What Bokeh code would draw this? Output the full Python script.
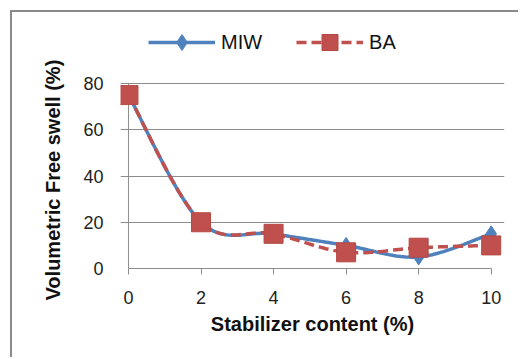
import numpy as np
from bokeh.plotting import figure
from bokeh.models import Range1d, Legend, LegendItem, FixedTicker, Title
from bokeh.embed import file_html
from bokeh.resources import INLINE

# ---- data ----
stabilizer = [0, 2, 4, 6, 8, 10]
miw = [75, 20, 15, 10, 5, 15]
ba = [75, 20, 15, 7, 9, 10]
x_ticks = [0, 2, 4, 6, 8, 10]
y_ticks = [0, 20, 40, 60, 80]

BLUE = "#4F81BD"
RED = "#C0504D"
GRID = "#8C8C8C"
FONT = "Liberation Sans"


def smooth(xs, ys, n=30):
    """Excel-like smoothed line: Catmull-Rom style cubic Bezier through the points."""
    P = np.column_stack([xs, ys]).astype(float)
    m = len(P)
    out = []
    for i in range(m - 1):
        p0 = P[i - 1] if i > 0 else P[i]
        p1, p2 = P[i], P[i + 1]
        p3 = P[i + 2] if i + 2 < m else P[i + 1]
        c1 = p1 + (p2 - p0) / 6.0
        c2 = p2 - (p3 - p1) / 6.0
        t = np.linspace(0, 1, n)[:, None]
        seg = ((1 - t) ** 3) * p1 + 3 * ((1 - t) ** 2) * t * c1 + 3 * (1 - t) * t ** 2 * c2 + t ** 3 * p2
        out.append(seg if i == 0 else seg[1:])
    c = np.vstack(out)
    return c[:, 0], c[:, 1]


# frame extends above y=80 so that the legend can sit there
p = figure(width=508, height=347,
           x_range=Range1d(-0.22, 10.367), y_range=Range1d(0, 106.4),
           min_border_left=108, min_border_right=16, min_border_top=10, min_border_bottom=91,
           output_backend="svg", toolbar_location=None,
           margin=(10, 0, 0, 10),
           styles={"border-top": "2px solid #8A8A8A", "border-left": "2px solid #8A8A8A"})
p.outline_line_color = None
p.background_fill_color = "white"
p.border_fill_color = "white"

# grid (extends a little left of x=0, like Excel's tick marks)
p.xgrid.visible = False
p.ygrid.ticker = FixedTicker(ticks=y_ticks)
p.ygrid.grid_line_color = GRID
p.ygrid.grid_line_width = 1

# vertical axis line at x = 0 from the lowest to the highest y tick
p.segment(x0=[x_ticks[0]], y0=[y_ticks[0]], x1=[x_ticks[0]], y1=[y_ticks[-1]],
          line_color=GRID, line_width=1)

# x axis
xa = p.xaxis[0]
xa.ticker = FixedTicker(ticks=x_ticks)
xa.bounds = (0, 10)
xa.axis_line_color = GRID
xa.major_tick_line_color = GRID
xa.major_tick_out = 6
xa.major_tick_in = 0
xa.minor_tick_line_color = None
xa.major_label_text_font = FONT
xa.major_label_text_font_size = "18px"
xa.major_label_text_color = "#222222"
xa.major_label_standoff = 16
xa.axis_label = "Stabilizer content (%)"
xa.axis_label_text_font = FONT
xa.axis_label_text_font_size = "20px"
xa.axis_label_text_font_style = "bold"
xa.axis_label_text_color = "#111111"
xa.axis_label_standoff = 6

# y axis
ya = p.yaxis[0]
ya.ticker = FixedTicker(ticks=y_ticks)
ya.axis_line_color = None
ya.major_tick_line_color = None
ya.minor_tick_line_color = None
ya.major_tick_out = 0
ya.major_tick_in = 0
ya.major_label_text_font = FONT
ya.major_label_text_font_size = "18px"
ya.major_label_text_color = "#222222"
ya.major_label_standoff = 17

ytitle = Title(text="Volumetric Free swell (%)", align="left", offset=-32,
               vertical_align="middle", standoff=31,
               text_font=FONT, text_font_size="20px", text_font_style="bold",
               text_color="#111111")
p.add_layout(ytitle, "left")

# series
mx, my = smooth(stabilizer, miw)
bx, by = smooth(stabilizer, ba)

l_miw = p.line(mx, my, line_color=BLUE, line_width=3.5)
l_ba = p.line(bx, by, line_color=RED, line_width=3.5, line_dash="10 5")
s_miw = p.scatter(stabilizer, miw, marker="diamond", size=16, fill_color=BLUE, line_color=BLUE)
s_ba = p.scatter(stabilizer, ba, marker="square", size=19, fill_color=RED, line_color="#B54845")

# legend (screen offset from the frame's bottom-left)
legend = Legend(items=[LegendItem(label="MIW", renderers=[l_miw, s_miw]),
                       LegendItem(label="BA", renderers=[l_ba, s_ba])],
                orientation="horizontal", location=(28, 206))
legend.label_text_font = FONT
legend.label_text_font_size = "20px"
legend.label_text_color = "#111111"
legend.glyph_width = 67
legend.glyph_height = 40
legend.label_standoff = 6
legend.spacing = 34
legend.padding = 0
legend.margin = 0
legend.border_line_color = None
legend.background_fill_alpha = 0
p.add_layout(legend)

open("out.html", "w").write(file_html(p, INLINE))
